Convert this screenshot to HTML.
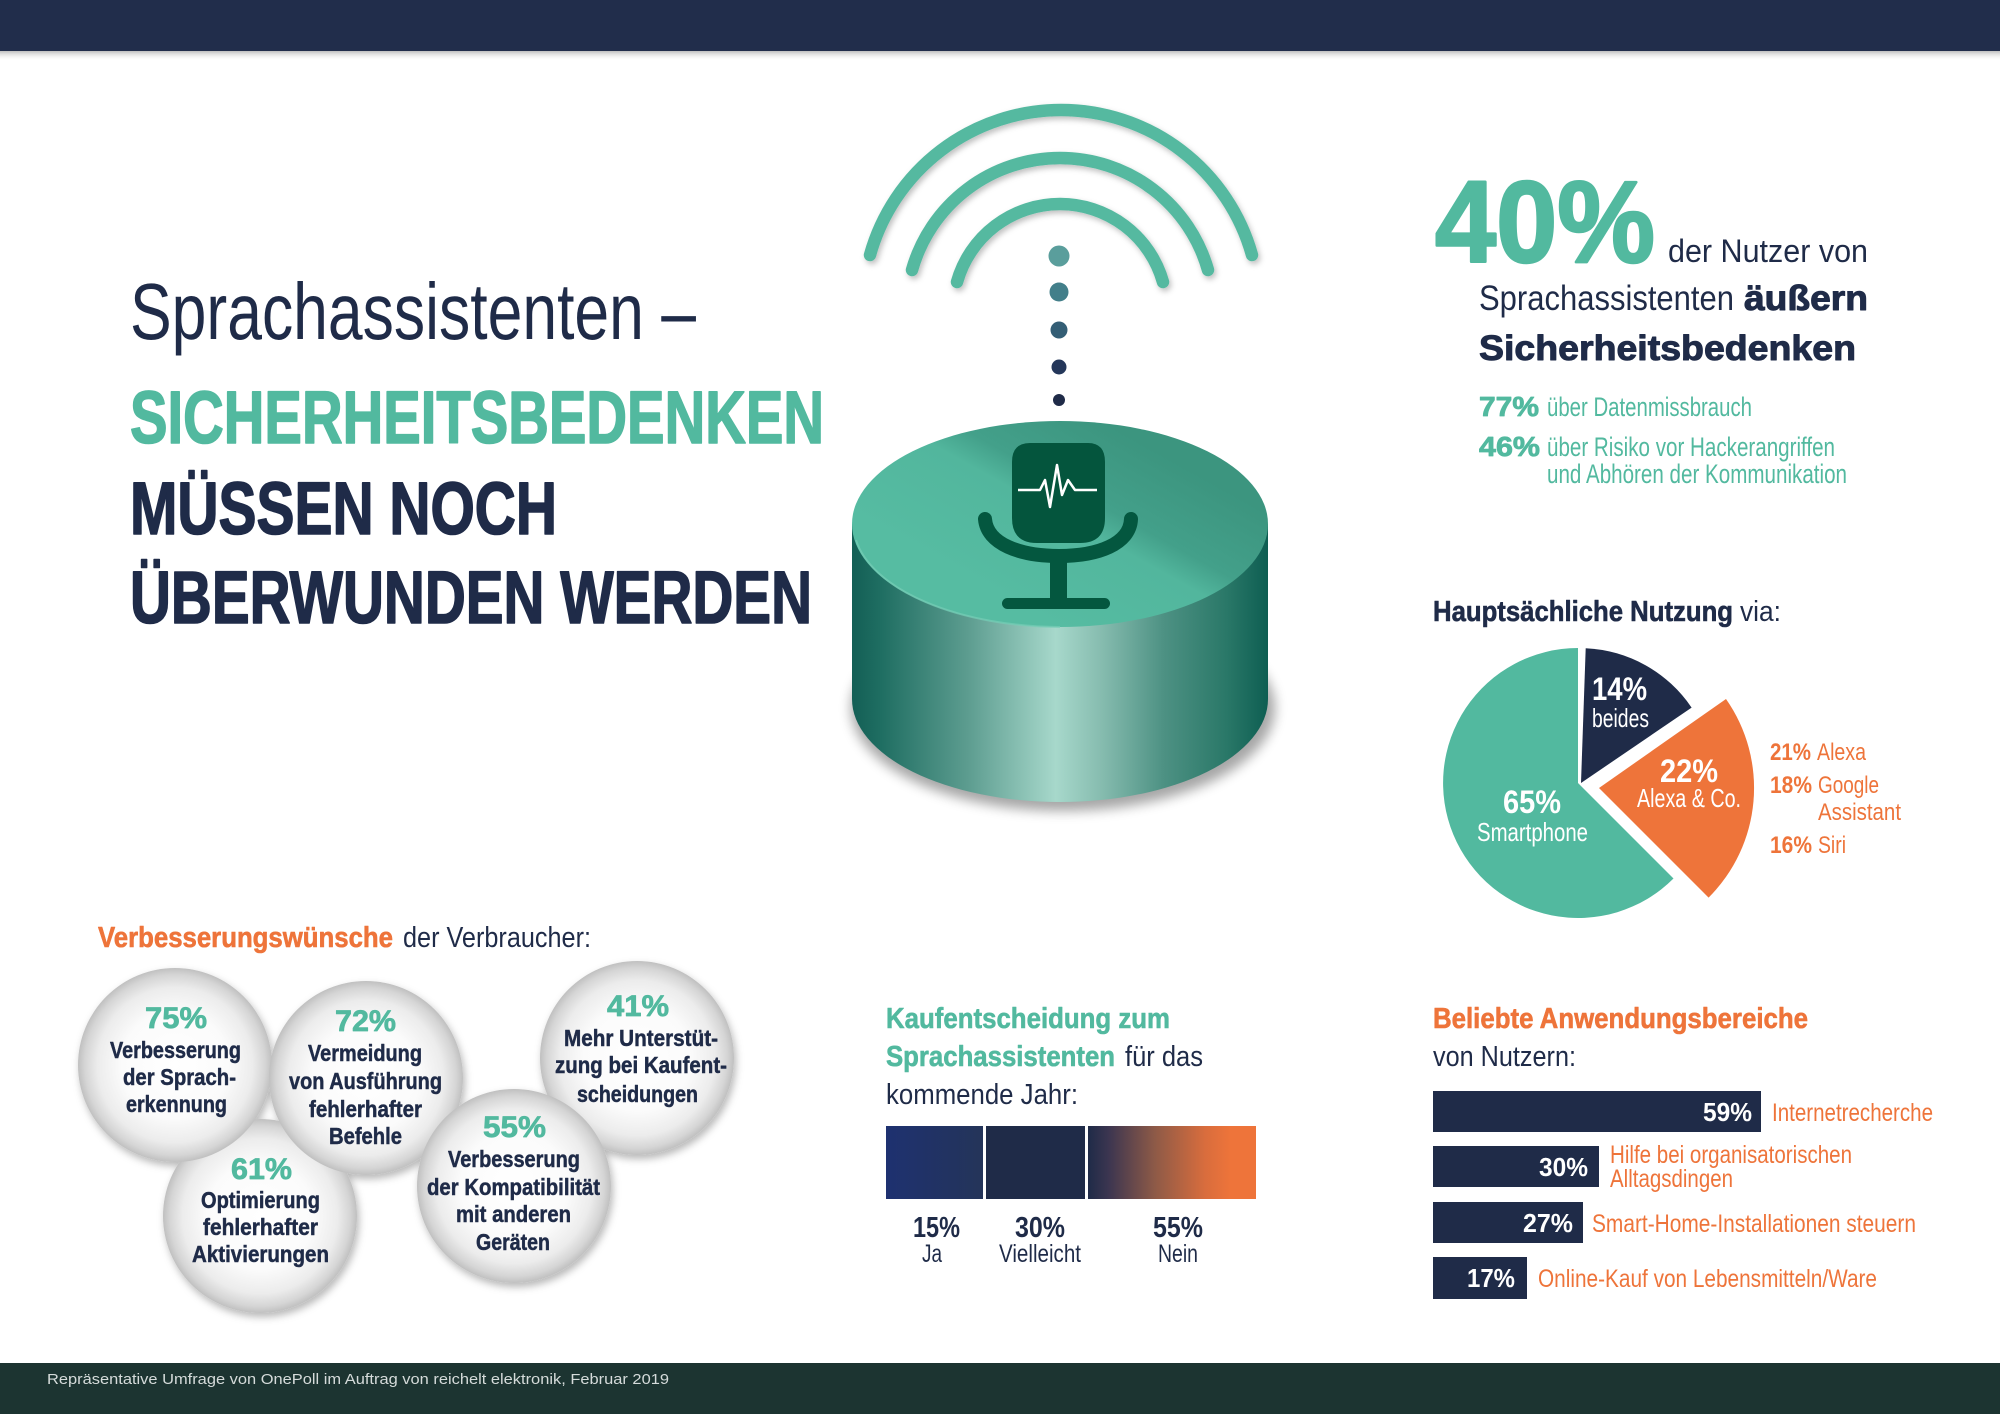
<!DOCTYPE html>
<html><head><meta charset="utf-8">
<style>
html,body{margin:0;padding:0;background:#fff;}
svg{display:block;}
text{font-family:"Liberation Sans Narrow","Liberation Sans",sans-serif;}
.b{font-weight:bold;}
.hv{stroke-linejoin:round;paint-order:stroke;}
</style></head><body>
<svg width="2000" height="1414" viewBox="0 0 2000 1414" xmlns="http://www.w3.org/2000/svg">
<defs>
 <linearGradient id="topsh" x1="0" y1="0" x2="0" y2="1"><stop offset="0" stop-color="#8a8a8a" stop-opacity="0.55"/><stop offset="1" stop-color="#ffffff" stop-opacity="0"/></linearGradient>
 <filter id="ds" x="-20%" y="-20%" width="140%" height="150%"><feDropShadow dx="2" dy="4" stdDeviation="4" flood-color="#000" flood-opacity="0.28"/></filter>
 <filter id="ds2" x="-10%" y="-30%" width="120%" height="180%"><feDropShadow dx="2" dy="3" stdDeviation="3" flood-color="#000" flood-opacity="0.25"/></filter>
 <filter id="blur6"><feGaussianBlur stdDeviation="6"/></filter>
 <radialGradient id="sph" cx="0.5" cy="0.5" r="0.5">
  <stop offset="0" stop-color="#ffffff"/>
  <stop offset="0.55" stop-color="#fbfbfb"/>
  <stop offset="0.8" stop-color="#ececec"/>
  <stop offset="0.93" stop-color="#d5d5d5"/>
  <stop offset="1" stop-color="#c0c0c0"/>
 </radialGradient>
 <linearGradient id="side" x1="852" y1="0" x2="1268" y2="0" gradientUnits="userSpaceOnUse">
  <stop offset="0" stop-color="#135f55"/>
  <stop offset="0.07" stop-color="#1f6e62"/>
  <stop offset="0.28" stop-color="#5d9d90"/>
  <stop offset="0.49" stop-color="#a7d8cb"/>
  <stop offset="0.6" stop-color="#86bcaf"/>
  <stop offset="0.75" stop-color="#4d9183"/>
  <stop offset="0.9" stop-color="#2a7868"/>
  <stop offset="1" stop-color="#0e5e52"/>
 </linearGradient>
 <linearGradient id="topf" x1="1000" y1="600" x2="1100" y2="420" gradientUnits="userSpaceOnUse">
  <stop offset="0" stop-color="#56bca2"/>
  <stop offset="0.5" stop-color="#52b69d"/>
  <stop offset="0.64" stop-color="#43a08a"/>
  <stop offset="1" stop-color="#3c957f"/>
 </linearGradient>
 <linearGradient id="ja" x1="0" y1="0" x2="1" y2="0">
  <stop offset="0" stop-color="#1e3170"/><stop offset="1" stop-color="#243459"/>
 </linearGradient>
 <linearGradient id="nein" x1="1088" y1="0" x2="1256" y2="0" gradientUnits="userSpaceOnUse">
  <stop offset="0" stop-color="#1f2b48"/>
  <stop offset="0.12" stop-color="#3b3550"/>
  <stop offset="0.4" stop-color="#8e5a47"/>
  <stop offset="0.7" stop-color="#d96d3d"/>
  <stop offset="0.85" stop-color="#ee743a"/>
  <stop offset="1" stop-color="#ee743a"/>
 </linearGradient>
</defs>

<!-- header & footer -->
<rect x="0" y="0" width="2000" height="51" fill="#212d4b"/>
<rect x="0" y="51" width="2000" height="10" fill="url(#topsh)"/>
<rect x="0" y="1363" width="2000" height="51" fill="#1c3431"/>
<text x="47" y="1384" font-size="15" fill="#d5dbda" textLength="622" lengthAdjust="spacingAndGlyphs">Repräsentative Umfrage von OnePoll im Auftrag von reichelt elektronik, Februar 2019</text>

<!-- Title -->
<text x="130" y="339" font-size="80" fill="#1f2b48" textLength="566" lengthAdjust="spacingAndGlyphs">Sprachassistenten –</text>
<text class="b hv" x="130" y="443" font-size="74" fill="#52b99f" stroke="#52b99f" stroke-width="1.6" textLength="694" lengthAdjust="spacingAndGlyphs">SICHERHEITSBEDENKEN</text>
<text class="b hv" x="130" y="534" font-size="74" fill="#1f2b48" stroke="#1f2b48" stroke-width="1.6" textLength="427" lengthAdjust="spacingAndGlyphs">MÜSSEN NOCH</text>
<text class="b hv" x="130" y="623" font-size="74" fill="#1f2b48" stroke="#1f2b48" stroke-width="1.6" textLength="682" lengthAdjust="spacingAndGlyphs">ÜBERWUNDEN WERDEN</text>

<!-- Speaker arcs -->
<g fill="none" stroke="#55b9a0" stroke-width="12.5" stroke-linecap="round" filter="url(#ds2)">
 <path d="M870,255 A198.3,198.3 0 0 1 1252,255"/>
 <path d="M912,270 A153.8,153.8 0 0 1 1208,270"/>
 <path d="M957,282 A107,107 0 0 1 1163,282"/>
</g>
<circle cx="1059" cy="256" r="10.5" fill="#5a9e9c"/>
<circle cx="1059" cy="292" r="9.5" fill="#437f8a"/>
<circle cx="1059" cy="330" r="8.5" fill="#345e75"/>
<circle cx="1059" cy="367" r="7.5" fill="#24375a"/>
<circle cx="1059" cy="400" r="6" fill="#1f2b48"/>

<!-- Cylinder -->
<ellipse cx="1063" cy="708" rx="212" ry="103" fill="#000" opacity="0.35" filter="url(#blur6)"/>
<path d="M852,524 L852,699 A208,103 0 0 0 1268,699 L1268,524 Z" fill="url(#side)"/>
<ellipse cx="1060" cy="524" rx="208" ry="103" fill="url(#topf)"/>
<path d="M856,540 A208,103 0 0 0 1060,627" fill="none" stroke="#78cdb6" stroke-width="2" opacity="0.7"/>

<!-- Microphone -->
<path d="M1030,443 L1088,443 Q1105,443 1105,462 L1105,518 Q1105,543 1080,543 L1037,543 Q1012,543 1012,518 L1012,462 Q1012,443 1030,443 Z" fill="#04553d"/>
<path d="M985,519 C987,544 1020,556 1059,556 C1098,556 1130,544 1131,519" fill="none" stroke="#04573f" stroke-width="14" stroke-linecap="round"/>
<rect x="1050" y="553" width="17" height="48" fill="#04573f"/>
<rect x="1002" y="598" width="108" height="11" rx="5.5" fill="#04573f"/>
<polyline points="1018,490 1040,490 1045,480 1050,507 1057,465 1062,495 1068,480 1075,490 1097,490" fill="none" stroke="#ffffff" stroke-width="2.5" stroke-linejoin="round"/>

<!-- Top right text -->
<text class="b hv" x="1435" y="262" font-size="116" fill="#52b99f" stroke="#52b99f" stroke-width="2.5" textLength="220" lengthAdjust="spacingAndGlyphs">40%</text>
<text x="1668" y="262" font-size="32" fill="#1f2b48" textLength="200" lengthAdjust="spacingAndGlyphs">der Nutzer von</text>
<text x="1479" y="310" font-size="35" fill="#1f2b48" textLength="255" lengthAdjust="spacingAndGlyphs">Sprachassistenten</text>
<text class="b hv" x="1744" y="310" font-size="35" fill="#1f2b48" stroke="#1f2b48" stroke-width="1" textLength="124" lengthAdjust="spacingAndGlyphs">äußern</text>
<text class="b hv" x="1479" y="360" font-size="35" fill="#1f2b48" stroke="#1f2b48" stroke-width="1" textLength="377" lengthAdjust="spacingAndGlyphs">Sicherheitsbedenken</text>
<text class="b hv" x="1479" y="416" font-size="28" fill="#52b99f" stroke="#52b99f" stroke-width="0.8" textLength="60" lengthAdjust="spacingAndGlyphs">77%</text>
<text x="1547" y="416" font-size="27" fill="#52b99f" textLength="205" lengthAdjust="spacingAndGlyphs">über Datenmissbrauch</text>
<text class="b hv" x="1479" y="456" font-size="28" fill="#52b99f" stroke="#52b99f" stroke-width="0.8" textLength="61" lengthAdjust="spacingAndGlyphs">46%</text>
<text x="1547" y="456" font-size="27" fill="#52b99f" textLength="288" lengthAdjust="spacingAndGlyphs">über Risiko vor Hackerangriffen</text>
<text x="1547" y="483" font-size="27" fill="#52b99f" textLength="300" lengthAdjust="spacingAndGlyphs">und Abhören der Kommunikation</text>

<!-- Pie -->
<text class="b hv" x="1433" y="621" font-size="29" fill="#1f2b48" stroke="#1f2b48" stroke-width="0.6" textLength="300" lengthAdjust="spacingAndGlyphs">Hauptsächliche Nutzung</text>
<text x="1740" y="621" font-size="29" fill="#1f2b48" textLength="41" lengthAdjust="spacingAndGlyphs">via:</text>
<path d="M1578,783 L1673.5,878.5 A135,135 0 1 1 1578,648 Z" fill="#52b99f"/>
<path d="M1581,783 L1585.7,648.2 A135,135 0 0 1 1691.6,707.6 Z" fill="#1f2b48"/>
<path d="M1599,788 L1726,699 A155,155 0 0 1 1708.6,897.6 Z" fill="#ee743a"/>
<text class="b" x="1592" y="700" font-size="32" fill="#fff" textLength="55" lengthAdjust="spacingAndGlyphs">14%</text>
<text x="1592" y="727" font-size="26" fill="#fff" textLength="57" lengthAdjust="spacingAndGlyphs">beides</text>
<text class="b" x="1660" y="782" font-size="32" fill="#fff" textLength="58" lengthAdjust="spacingAndGlyphs">22%</text>
<text x="1637" y="807" font-size="26" fill="#fff" textLength="104" lengthAdjust="spacingAndGlyphs">Alexa &amp; Co.</text>
<text class="b" x="1503" y="813" font-size="32" fill="#fff" textLength="58" lengthAdjust="spacingAndGlyphs">65%</text>
<text x="1477" y="841" font-size="26" fill="#fff" textLength="111" lengthAdjust="spacingAndGlyphs">Smartphone</text>
<g fill="#ee743a" font-size="24">
 <text class="b" x="1770" y="760" textLength="41" lengthAdjust="spacingAndGlyphs">21%</text>
 <text x="1817" y="760" textLength="49" lengthAdjust="spacingAndGlyphs">Alexa</text>
 <text class="b" x="1770" y="793" textLength="42" lengthAdjust="spacingAndGlyphs">18%</text>
 <text x="1818" y="793" textLength="61" lengthAdjust="spacingAndGlyphs">Google</text>
 <text x="1818" y="820" textLength="83" lengthAdjust="spacingAndGlyphs">Assistant</text>
 <text class="b" x="1770" y="853" textLength="42" lengthAdjust="spacingAndGlyphs">16%</text>
 <text x="1818" y="853" textLength="28" lengthAdjust="spacingAndGlyphs">Siri</text>
</g>

<!-- Bubbles -->
<text class="b hv" x="98" y="947" font-size="29" fill="#ee743a" stroke="#ee743a" stroke-width="0.6" textLength="295" lengthAdjust="spacingAndGlyphs">Verbesserungswünsche</text>
<text x="403" y="947" font-size="29" fill="#1f2b48" textLength="188" lengthAdjust="spacingAndGlyphs">der Verbraucher:</text>
<g filter="url(#ds)" fill="url(#sph)">
 <circle cx="260" cy="1216" r="97"/>
 <circle cx="175" cy="1065" r="97"/>
 <circle cx="366" cy="1078" r="97"/>
 <circle cx="637" cy="1058" r="97"/>
 <circle cx="514" cy="1186" r="97"/>
</g>
<g fill="#52b99f" stroke="#52b99f" stroke-width="0.7" font-size="30">
 <text class="b hv" x="145" y="1028" textLength="62" lengthAdjust="spacingAndGlyphs">75%</text>
 <text class="b hv" x="335" y="1031" textLength="61" lengthAdjust="spacingAndGlyphs">72%</text>
 <text class="b hv" x="231" y="1179" textLength="61" lengthAdjust="spacingAndGlyphs">61%</text>
 <text class="b hv" x="483" y="1137" textLength="63" lengthAdjust="spacingAndGlyphs">55%</text>
 <text class="b hv" x="607" y="1016" textLength="62" lengthAdjust="spacingAndGlyphs">41%</text>
</g>
<g fill="#1f2b48" stroke="#1f2b48" stroke-width="0.5" font-size="23">
 <text class="b hv" x="110" y="1058" textLength="131" lengthAdjust="spacingAndGlyphs">Verbesserung</text>
 <text class="b hv" x="123" y="1085" textLength="113" lengthAdjust="spacingAndGlyphs">der Sprach-</text>
 <text class="b hv" x="126" y="1112" textLength="101" lengthAdjust="spacingAndGlyphs">erkennung</text>

 <text class="b hv" x="308" y="1061" textLength="114" lengthAdjust="spacingAndGlyphs">Vermeidung</text>
 <text class="b hv" x="289" y="1089" textLength="153" lengthAdjust="spacingAndGlyphs">von Ausführung</text>
 <text class="b hv" x="309" y="1117" textLength="113" lengthAdjust="spacingAndGlyphs">fehlerhafter</text>
 <text class="b hv" x="329" y="1144" textLength="73" lengthAdjust="spacingAndGlyphs">Befehle</text>

 <text class="b hv" x="201" y="1208" textLength="119" lengthAdjust="spacingAndGlyphs">Optimierung</text>
 <text class="b hv" x="203" y="1235" textLength="115" lengthAdjust="spacingAndGlyphs">fehlerhafter</text>
 <text class="b hv" x="192" y="1262" textLength="137" lengthAdjust="spacingAndGlyphs">Aktivierungen</text>

 <text class="b hv" x="448" y="1167" textLength="132" lengthAdjust="spacingAndGlyphs">Verbesserung</text>
 <text class="b hv" x="427" y="1195" textLength="173" lengthAdjust="spacingAndGlyphs">der Kompatibilität</text>
 <text class="b hv" x="456" y="1222" textLength="115" lengthAdjust="spacingAndGlyphs">mit anderen</text>
 <text class="b hv" x="476" y="1250" textLength="74" lengthAdjust="spacingAndGlyphs">Geräten</text>

 <text class="b hv" x="564" y="1046" textLength="154" lengthAdjust="spacingAndGlyphs">Mehr Unterstüt-</text>
 <text class="b hv" x="555" y="1073" textLength="172" lengthAdjust="spacingAndGlyphs">zung bei Kaufent-</text>
 <text class="b hv" x="577" y="1102" textLength="121" lengthAdjust="spacingAndGlyphs">scheidungen</text>
</g>

<!-- Kaufentscheidung -->
<text class="b hv" x="886" y="1028" font-size="29" fill="#52b99f" stroke="#52b99f" stroke-width="0.6" textLength="284" lengthAdjust="spacingAndGlyphs">Kaufentscheidung zum</text>
<text class="b hv" x="886" y="1066" font-size="29" fill="#52b99f" stroke="#52b99f" stroke-width="0.6" textLength="229" lengthAdjust="spacingAndGlyphs">Sprachassistenten</text>
<text x="1125" y="1066" font-size="29" fill="#1f2b48" textLength="78" lengthAdjust="spacingAndGlyphs">für das</text>
<text x="886" y="1104" font-size="29" fill="#1f2b48" textLength="192" lengthAdjust="spacingAndGlyphs">kommende Jahr:</text>
<rect x="886" y="1126" width="97" height="73" fill="url(#ja)"/>
<rect x="986" y="1126" width="99" height="73" fill="#1f2b48"/>
<rect x="1088" y="1126" width="168" height="73" fill="url(#nein)"/>
<g fill="#1f2b48">
 <text class="b" x="913" y="1237" font-size="29" textLength="47" lengthAdjust="spacingAndGlyphs">15%</text>
 <text x="922" y="1262" font-size="25" textLength="20" lengthAdjust="spacingAndGlyphs">Ja</text>
 <text class="b" x="1015" y="1237" font-size="29" textLength="50" lengthAdjust="spacingAndGlyphs">30%</text>
 <text x="999" y="1262" font-size="25" textLength="82" lengthAdjust="spacingAndGlyphs">Vielleicht</text>
 <text class="b" x="1153" y="1237" font-size="29" textLength="50" lengthAdjust="spacingAndGlyphs">55%</text>
 <text x="1158" y="1262" font-size="25" textLength="40" lengthAdjust="spacingAndGlyphs">Nein</text>
</g>

<!-- Anwendungsbereiche -->
<text class="b hv" x="1433" y="1028" font-size="29" fill="#ee743a" stroke="#ee743a" stroke-width="0.6" textLength="375" lengthAdjust="spacingAndGlyphs">Beliebte Anwendungsbereiche</text>
<text x="1433" y="1066" font-size="29" fill="#1f2b48" textLength="143" lengthAdjust="spacingAndGlyphs">von Nutzern:</text>
<g fill="#1f2b48">
 <rect x="1433" y="1091" width="328" height="41"/>
 <rect x="1433" y="1146" width="166" height="41"/>
 <rect x="1433" y="1202" width="150" height="41"/>
 <rect x="1433" y="1257" width="94" height="42"/>
</g>
<g fill="#fff" font-size="26">
 <text class="b" x="1703" y="1121" textLength="49" lengthAdjust="spacingAndGlyphs">59%</text>
 <text class="b" x="1539" y="1176" textLength="49" lengthAdjust="spacingAndGlyphs">30%</text>
 <text class="b" x="1523" y="1232" textLength="50" lengthAdjust="spacingAndGlyphs">27%</text>
 <text class="b" x="1467" y="1287" textLength="48" lengthAdjust="spacingAndGlyphs">17%</text>
</g>
<g fill="#ee743a" font-size="25">
 <text x="1772" y="1121" textLength="161" lengthAdjust="spacingAndGlyphs">Internetrecherche</text>
 <text x="1610" y="1163" textLength="242" lengthAdjust="spacingAndGlyphs">Hilfe bei organisatorischen</text>
 <text x="1610" y="1187" textLength="123" lengthAdjust="spacingAndGlyphs">Alltagsdingen</text>
 <text x="1592" y="1232" textLength="324" lengthAdjust="spacingAndGlyphs">Smart-Home-Installationen steuern</text>
 <text x="1538" y="1287" textLength="339" lengthAdjust="spacingAndGlyphs">Online-Kauf von Lebensmitteln/Ware</text>
</g>
</svg>
</body></html>
